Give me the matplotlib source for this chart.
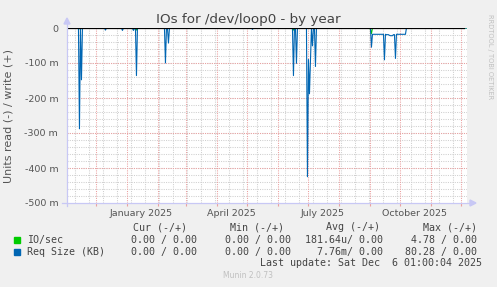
"""
Munin-style "IOs for /dev/loop0 - by year" chart, redrawn with matplotlib.
Read (-) values are drawn below zero, write (+) stays at zero.
"""
from datetime import datetime, timedelta

import matplotlib
matplotlib.use('Agg')
import matplotlib.pyplot as plt
import matplotlib.dates as mdates
from matplotlib.lines import Line2D
from matplotlib.patches import Polygon
import numpy as np
import pandas as pd

W, H = 497, 287
START = datetime(2024, 11, 1, 1, 0, 4)
END = datetime(2025, 12, 6, 1, 0, 4)

# Req Size (KB), read side (values in KB, drawn negative); every other day is 0
req_dates = ['2024-11-14', '2024-11-16', '2024-12-10', '2024-12-27', '2025-01-07',
             '2025-01-10', '2025-02-08', '2025-02-11', '2025-05-06', '2025-06-16',
             '2025-06-19', '2025-06-30', '2025-07-01', '2025-07-02', '2025-07-03',
             '2025-07-05', '2025-07-08',
             '2025-09-02', '2025-09-03', '2025-09-04', '2025-09-05', '2025-09-06',
             '2025-09-07', '2025-09-08', '2025-09-09', '2025-09-10', '2025-09-11',
             '2025-09-12', '2025-09-13', '2025-09-14', '2025-09-15', '2025-09-16',
             '2025-09-17', '2025-09-18', '2025-09-19', '2025-09-20', '2025-09-21',
             '2025-09-22', '2025-09-23', '2025-09-24', '2025-09-25', '2025-09-26',
             '2025-09-27', '2025-09-28', '2025-09-29', '2025-09-30', '2025-10-01',
             '2025-10-02', '2025-10-03', '2025-10-04', '2025-10-05', '2025-10-06']
req_read_kb = [0.288, 0.148, 0.006, 0.007, 0.007,
               0.136, 0.100, 0.043, 0.004, 0.136,
               0.101, 0.425, 0.090, 0.188, 0.090,
               0.051, 0.110,
               0.055, 0.018, 0.018, 0.018, 0.018,
               0.018, 0.018, 0.018, 0.018, 0.018,
               0.018, 0.018, 0.018, 0.091, 0.018,
               0.019, 0.019, 0.019, 0.021, 0.022,
               0.022, 0.022, 0.019, 0.019, 0.087,
               0.018, 0.018, 0.018, 0.018, 0.018,
               0.018, 0.018, 0.018, 0.018, 0.018]

# IO/sec, read side
io_dates = ['2024-11-15', '2025-01-07', '2025-01-10', '2025-06-16', '2025-09-01', '2025-09-02']
io_read = [0.004, 0.004, 0.006, 0.006, 0.004, 0.016]

# legend table
legend_names = ['IO/sec', 'Req Size (KB)']
legend_colors = ['#00CC00', '#0066B3']
legend_cur = ['0.00 / 0.00', '0.00 / 0.00']
legend_min = ['0.00 / 0.00', '0.00 / 0.00']
legend_avg = ['181.64u/ 0.00', '7.76m/ 0.00']
legend_max = ['4.78 / 0.00', '80.28 / 0.00']

y_ticks = [0, -0.1, -0.2, -0.3, -0.4, -0.5]
y_labels = ['0', '-100 m', '-200 m', '-300 m', '-400 m', '-500 m']
month_labels = ['January 2025', 'April 2025', 'July 2025', 'October 2025']
month_label_dates = ['2025-01-15', '2025-04-15', '2025-07-15', '2025-10-15']


def daily(dates, vals):
    idx = pd.date_range(START.date(), END.date(), freq='D')
    s = pd.Series(0.0, index=idx)
    s[pd.to_datetime(dates)] = vals
    return s


def fx(px):
    return px / W


def fy(py):
    return 1 - py / H


req = daily(req_dates, req_read_kb)
io = daily(io_dates, io_read)

BG = '#F0F0F0'
TXT = '#555555'
DOT = (0, (1, 1.2))
fig = plt.figure(figsize=(W / 100, H / 100), dpi=100, facecolor=BG)
ax = fig.add_axes([fx(66.5), fy(203), fx(400), 175 / H])
ax.set_facecolor('white')
for s in ax.spines.values():
    s.set_visible(False)

x0, x1 = mdates.date2num(START), mdates.date2num(END)
ax.set_xlim(x0, x1)
ax.set_ylim(-0.5, 0)

# minor grid: every 0.02 and every two weeks
for v in np.arange(-0.48, 0, 0.02):
    ax.axhline(v, color='#CFCFCF', lw=0.75, ls=DOT, zorder=0)
d = datetime(2024, 11, 10)
while d < END:
    ax.axvline(d, color='#CFCFCF', lw=0.75, ls=DOT, zorder=0)
    d += timedelta(days=14)
# major grid: every 0.1 and month starts
for v in y_ticks[1:-1]:
    ax.axhline(v, color='#EBA0A0', lw=0.75, ls=DOT, zorder=1)
months = pd.date_range('2024-12-01', END, freq='MS')
for m in months:
    ax.axvline(m, color='#EBA0A0', lw=0.75, ls=DOT, zorder=1)

ax.plot(io.index, -io.values, color='#00CC00', lw=0.8, zorder=3)
ax.plot(req.index, -req.values, color='#0066B3', lw=0.8, zorder=4)
ax.plot([x0, x1 - 3], [0, 0], color='black', lw=0.9, zorder=5)

ax.set_yticks(y_ticks)
ax.set_yticklabels(y_labels)
ax.tick_params(axis='y', length=0, pad=6, labelsize=6.8, labelcolor=TXT)
ax.set_xticks(mdates.date2num(months.to_pydatetime()))
ax.set_xticklabels([])
ax.tick_params(axis='x', which='major', length=2, color='#EBA0A0', direction='out')
ax.set_xticks(mdates.date2num(pd.to_datetime(month_label_dates).to_pydatetime()), minor=True)
ax.set_xticklabels(month_labels, minor=True)
ax.tick_params(axis='x', which='minor', length=0, pad=4, labelsize=6.8, labelcolor=TXT)

# axis lines with arrow heads
ac = '#C8C8F5'
fig.add_artist(Line2D([fx(67), fx(67)], [fy(206), fy(24)], color=ac, lw=0.9))
fig.add_artist(Line2D([fx(62), fx(470)], [fy(203), fy(203)], color=ac, lw=0.9))
fig.add_artist(Polygon([[fx(64), fy(24)], [fx(70), fy(24)], [fx(67), fy(18)]],
                       closed=True, color=ac, transform=fig.transFigure))
fig.add_artist(Polygon([[fx(470), fy(200)], [fx(470), fy(206)], [fx(476), fy(203)]],
                       closed=True, color=ac, transform=fig.transFigure))

fig.text(fx(248), fy(19), 'IOs for /dev/loop0 - by year', ha='center', va='center',
         fontsize=9.7, color='#444444')
fig.text(fx(9), fy(116), 'Units read (-) / write (+)', rotation=90, ha='center',
         va='center', fontsize=8, color=TXT)
fig.text(fx(490), fy(57), 'RRDTOOL / TOBI OETIKER', rotation=270, ha='center',
         va='center', fontsize=4.8, color='#C0C0C0')

mono = dict(family='DejaVu Sans Mono', fontsize=7.2, color='#444444', va='center')
for txt, xr in zip(['Cur (-/+)', 'Min (-/+)', 'Avg (-/+)', 'Max (-/+)'], [187, 284, 380, 477]):
    fig.text(fx(xr), fy(227), txt, ha='right', **mono)
for i, name in enumerate(legend_names):
    yy = 240 + 12 * i
    fig.add_artist(plt.Rectangle((fx(14), fy(yy + 3)), fx(6), 6 / H,
                                 color=legend_colors[i], transform=fig.transFigure))
    fig.text(fx(27), fy(yy), name, ha='left', **mono)
    fig.text(fx(197), fy(yy), legend_cur[i], ha='right', **mono)
    fig.text(fx(291), fy(yy), legend_min[i], ha='right', **mono)
    fig.text(fx(383), fy(yy), legend_avg[i], ha='right', **mono)
    fig.text(fx(477), fy(yy), legend_max[i], ha='right', **mono)
fig.text(fx(482), fy(263), 'Last update: Sat Dec  6 01:00:04 2025', ha='right', **mono)
fig.text(fx(248), fy(276), 'Munin 2.0.73', ha='center', va='center', fontsize=5.5,
         color='#C0C0C0')

fig.savefig('out.png', dpi=100, facecolor=BG)
